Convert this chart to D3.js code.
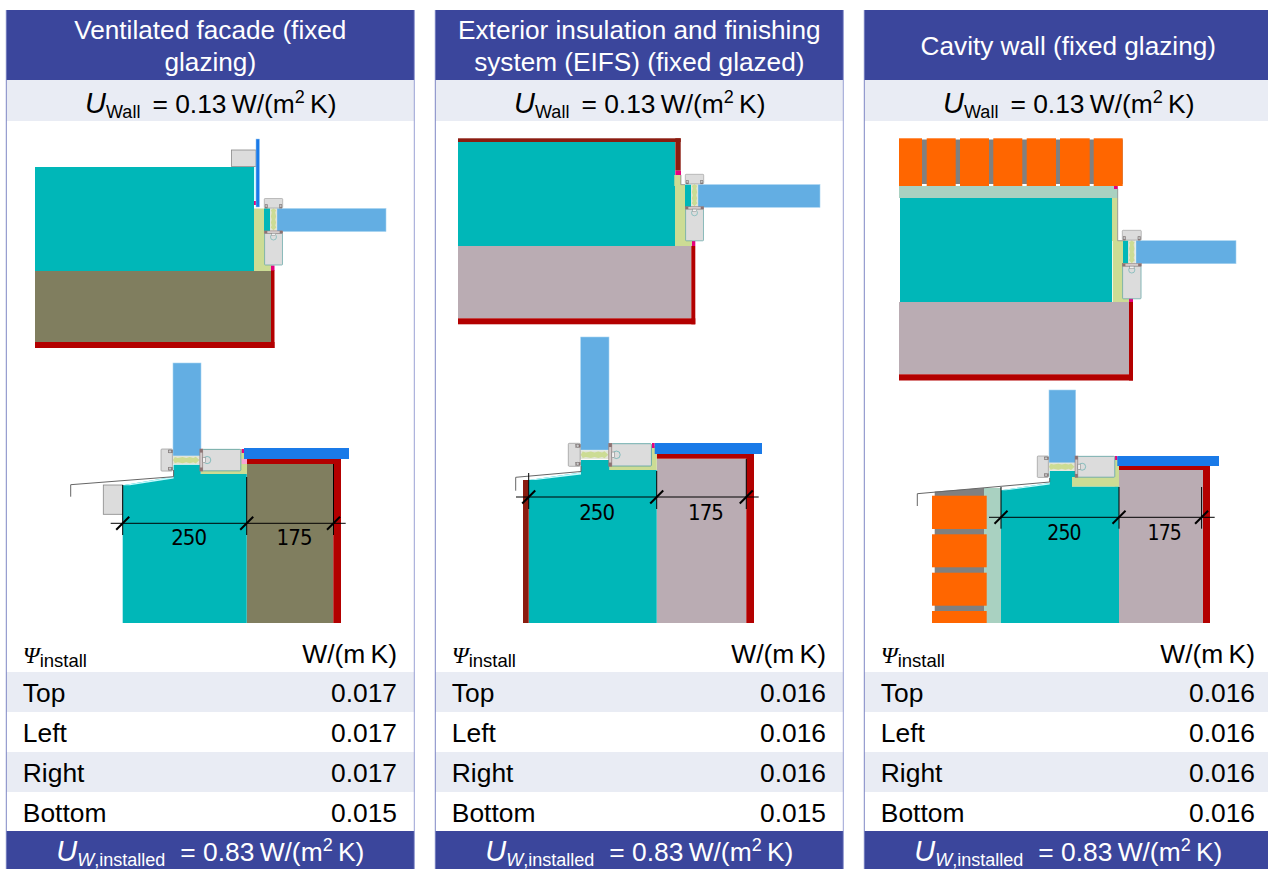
<!DOCTYPE html>
<html>
<head>
<meta charset="utf-8">
<script src="https://cdn.jsdelivr.net/npm/d3@7"></script>
<style>
html, body { margin: 0; padding: 0; background: #fff; overflow: hidden; }
svg { display: block; }
text { font-family: "Liberation Sans", sans-serif; fill: #000; }
</style>
</head>
<body>
<div id="chart"></div>
<script>
// Values
var facadeTitles = [
    ["Ventilated facade (fixed", "glazing)"],
    ["Exterior insulation and finishing", "system (EIFS) (fixed glazed)"],
    ["Cavity wall (fixed glazing)"]
];
var uWall = [0.13, 0.13, 0.13];
var uInstalled = [0.83, 0.83, 0.83];
var psiSides = ["Top", "Left", "Right", "Bottom"];
var psiFacade = [0.017, 0.017, 0.017, 0.015];
var psiEifs = [0.016, 0.016, 0.016, 0.015];
var psiCavity = [0.016, 0.016, 0.016, 0.016];
var psiValues = [psiFacade, psiEifs, psiCavity];
var layerMm = [250, 175];

var colors = {
    header: "#3b469c", band: "#e9ecf4", teal: "#00b7b8", khaki: "#807e5f", mauve: "#baacb3",
    red: "#b30000", darkRed: "#8b1c10", green: "#ccdc94", glass: "#63aee3", blue: "#1a7ae8",
    grey: "#dcdcdc", magenta: "#e6007e", pink: "#f7a6d4", cavity: "#a9d1c1", brick: "#ff6600", mortar: "#808080"
};

var width = 1268, height = 869;

var svg = d3.select("#chart").append("svg")
    .attr("width", width)
    .attr("height", height);

// Three columns and the four table rows
var panelX = d3.scaleBand().domain([0, 1, 2]).range([6.3, 6.3 + 408 * 3 + 21 * 2]).paddingInner(21 / 429).paddingOuter(0);
var rowY = d3.scaleBand().domain(psiSides).range([672, 832]);
var fmt3 = d3.format(".3f"), fmt2 = d3.format(".2f");

function rect(g, x0, y0, x1, y1, fill, stroke, sw) {
    return g.append("rect")
        .attr("x", x0).attr("y", y0)
        .attr("width", x1 - x0).attr("height", y1 - y0)
        .attr("fill", fill)
        .attr("stroke", stroke || "none")
        .attr("stroke-width", sw || 0);
}

function poly(g, pts, fill) {
    return g.append("polygon")
        .attr("points", pts.map(function(p) { return p.join(","); }).join(" "))
        .attr("fill", fill);
}

function line(g, pts, stroke, sw) {
    return g.append("path")
        .attr("d", d3.line()(pts))
        .attr("fill", "none")
        .attr("stroke", stroke)
        .attr("stroke-width", sw);
}

// Window frame section. u runs from the outer profile to the inner one, v across it.
function drawFrame(g, ox, oy, s, horizontal) {
    var f = g.append("g").attr("transform", horizontal
        ? "matrix(" + s + ",0,0," + s + "," + ox + "," + oy + ")"
        : "matrix(0," + s + "," + s + ",0," + ox + "," + oy + ")");

    rect(f, 9, 5.7, 33, 12.7, "#e2e5d8");
    poly(f, [[10, 9.2], [11.5, 6.6], [14, 7.4], [18, 6.6], [21, 7.4], [24, 6.6], [27, 7.4], [29, 6.4], [32, 9.2],
             [29, 12], [27, 11], [24, 11.8], [21, 11], [18, 11.8], [14, 11], [11.5, 11.8]], colors.green);

    rect(f, 0, 0, 9.5, 18.4, colors.grey, "#999", 0.6).attr("rx", 0.8);
    rect(f, 6, 0.8, 9.6, 3.2, "#8d7272", "#777", 0.3);
    rect(f, 6, 15.2, 9.6, 17.6, "#8d7272", "#777", 0.3);
    f.append("circle").attr("cx", 7.5).attr("cy", 2).attr("r", 1.2).attr("fill", "#ccc").attr("stroke", "#666").attr("stroke-width", 0.3);
    f.append("circle").attr("cx", 7.5).attr("cy", 16.4).attr("r", 1.2).attr("fill", "#ccc").attr("stroke", "#666").attr("stroke-width", 0.3);

    rect(f, 34.5, 0.3, 66.5, 18.2, colors.grey, "#5fa3a3", 0.7).attr("rx", 0.8);
    rect(f, 32.4, 0, 34.8, 18.4, "#d4cccc", "#8d7272", 0.5);
    rect(f, 32.4, 0, 34.8, 3, "#8d7272");
    rect(f, 32.4, 15.4, 34.8, 18.4, "#8d7272");
    f.append("circle").attr("cx", 38.5).attr("cy", 9.2).attr("r", 3).attr("fill", "none").attr("stroke", "#4aa6a6").attr("stroke-width", 0.5);
    rect(f, 34.8, 7, 37, 11.4, "#f2f2f2", "#777", 0.4);
}

function drawDimension(g, x0, k, y, lineFrom, lineTo, extTops, extBottom, labelY, fontSize) {
    // mm along the wall mapped to pixels
    var mm = d3.scaleLinear().domain([0, 1]).range([x0, x0 + k]);
    var ticks = [0, layerMm[0], layerMm[0] + layerMm[1]];
    line(g, [[lineFrom, y], [lineTo, y]], "#000", 1);
    ticks.forEach(function(t, i) {
        var x = mm(t);
        line(g, [[x, extTops[i]], [x, extBottom]], "#000", 1);
        line(g, [[x - 6.5, y + 6.5], [x + 6.5, y - 6.5]], "#000", 2);
    });
    layerMm.forEach(function(d, i) {
        g.append("text")
            .attr("x", (mm(ticks[i]) + mm(ticks[i + 1])) / 2 + 4)
            .attr("y", labelY)
            .attr("text-anchor", "middle")
            .style("font-family", "'DejaVu Sans Condensed', 'DejaVu Sans', sans-serif")
            .style("font-stretch", "condensed")
            .style("letter-spacing", "-0.9px")
            .style("font-size", fontSize + "px")
            .text(d);
    });
}

function drawFacade(g) {
    // top section
    rect(g, 35, 167, 254, 271, colors.teal);
    rect(g, 35, 271, 271, 342, colors.khaki);
    rect(g, 35, 342, 274.5, 348, colors.red);
    rect(g, 271, 270, 274.5, 348, colors.red);
    rect(g, 254, 208.5, 271, 271, colors.green);
    rect(g, 264, 208.5, 270, 231, colors.teal);
    rect(g, 277, 208.5, 386, 231.5, colors.glass, "#a6d3f0", 0.6);
    rect(g, 254, 167, 256, 200, "#d8fbff");
    rect(g, 254, 201, 256, 205, colors.magenta);
    rect(g, 231.5, 150, 256, 166.5, colors.grey, "#888", 0.8);
    rect(g, 256, 139, 259.5, 207, colors.blue, "#9cc8f0", 0.5);
    rect(g, 271, 265.5, 274.5, 270.5, colors.magenta);
    drawFrame(g, 264.3, 198.5, 1, false);

    // bottom section
    rect(g, 173, 363, 201, 456, colors.glass, "#a6d3f0", 0.6);
    rect(g, 246.7, 464, 333.3, 623, colors.khaki);
    rect(g, 246.7, 459, 341, 464, colors.red);
    rect(g, 333.3, 459, 341, 623, colors.red);
    rect(g, 201, 449, 247, 474, colors.green);
    poly(g, [[122.7, 485.3], [173.6, 476.7], [173.6, 464.7], [200.7, 464.7], [200.7, 474], [246.7, 474], [246.7, 623], [122.7, 623]], colors.teal);
    poly(g, [[122.7, 485.3], [173.6, 476.7], [173.6, 478.5], [130, 485.3]], "#c8fbff");
    rect(g, 241.5, 459, 247, 464, colors.pink);
    rect(g, 241.7, 449, 244, 453, colors.magenta);
    rect(g, 244, 448, 349, 459, colors.blue);
    rect(g, 103.3, 485, 122.7, 514.3, colors.grey, "#888", 0.8);
    line(g, [[70.7, 496.7], [70.7, 484.7], [173.6, 476.7], [173.6, 470]], "#666", 1);
    drawFrame(g, 161, 449, 1.2, true);
    drawDimension(g, 122.7, 124 / 250, 523.3, 110.7, 345.7, [485, 477, 464], 535, 545, 22);
}

function drawEifs(g) {
    // top section
    rect(g, 458, 142, 675, 246, colors.teal);
    rect(g, 458, 138.3, 680.7, 142, colors.darkRed);
    rect(g, 675.3, 138.3, 680.7, 170.7, colors.darkRed);
    rect(g, 675.3, 170.7, 681, 175, colors.magenta);
    rect(g, 674.3, 175, 681, 186, colors.green);
    rect(g, 675, 185, 692, 246, colors.green);
    rect(g, 685, 184.6, 691, 207.3, colors.teal);
    line(g, [[680.9, 175], [680.9, 184.6], [685, 184.6]], "#888", 0.8);
    rect(g, 698, 184.6, 820, 207.3, colors.glass, "#a6d3f0", 0.6);
    rect(g, 458, 246, 691.3, 318.3, colors.mauve);
    rect(g, 458, 318.3, 695.3, 324.3, colors.red);
    rect(g, 691.3, 246, 695.3, 324.3, colors.red);
    rect(g, 692, 241, 695.3, 246, colors.magenta);
    drawFrame(g, 685.3, 174.3, 1, false);

    // bottom section
    rect(g, 580.7, 337, 609, 450, colors.glass, "#a6d3f0", 0.6);
    rect(g, 656.7, 458.7, 746.3, 623, colors.mauve);
    rect(g, 656.7, 453.7, 754, 458.7, colors.red);
    rect(g, 746.3, 453.7, 754, 623, colors.red);
    rect(g, 609.3, 446, 656.7, 470, colors.green);
    poly(g, [[528.7, 480], [581, 472.5], [581, 460], [609.3, 460], [609.3, 470], [656.7, 470], [656.7, 623], [528.7, 623]], colors.teal);
    poly(g, [[528.7, 480], [581, 472.5], [581, 474.5], [535, 480]], "#c8fbff");
    rect(g, 523, 480, 528.7, 623, colors.darkRed);
    rect(g, 652, 443, 654.7, 448, colors.magenta);
    rect(g, 654.7, 443, 762, 454, colors.blue);
    line(g, [[515.7, 490.7], [515.7, 477.3], [581, 471.5], [581, 466]], "#666", 1);
    drawFrame(g, 568.3, 443.3, 1.25, true);
    drawDimension(g, 528.7, 128 / 250, 497, 516, 758.7, [473, 471, 459], 509, 520, 22);
}

function drawCavity(g) {
    // top section
    rect(g, 899, 139.5, 1122.7, 184, colors.mortar);
    [[899, 922], [926.7, 955.7], [960, 989], [993.3, 1022.3], [1026.7, 1056], [1060, 1089.7], [1093.7, 1122.7]].forEach(function(b) {
        rect(g, b[0], 138.3, b[1], 186, colors.brick);
    });
    rect(g, 899, 186, 1117.7, 198, colors.cavity);
    rect(g, 1114, 186, 1117.7, 189, colors.magenta);
    rect(g, 900, 198, 1112, 302, colors.teal);
    rect(g, 1112, 198, 1117.7, 241, colors.green);
    rect(g, 1112.7, 240.7, 1129, 302, colors.green);
    rect(g, 1123, 240.7, 1128.3, 263.3, colors.teal);
    line(g, [[1117.7, 189], [1117.7, 240.7], [1123, 240.7]], "#888", 0.8);
    rect(g, 1136, 240.7, 1236, 263.7, colors.glass, "#a6d3f0", 0.6);
    rect(g, 899, 302, 1129, 374.3, colors.mauve);
    rect(g, 899, 374.3, 1133, 380.5, colors.red);
    rect(g, 1129, 302, 1133, 380.5, colors.red);
    rect(g, 1129, 297.5, 1133, 302, colors.magenta);
    drawFrame(g, 1122.3, 230.3, 1.03, false);

    // bottom section
    rect(g, 1049, 390, 1075.7, 463, colors.glass, "#a6d3f0", 0.6);
    rect(g, 1119, 470, 1203, 623, colors.mauve);
    rect(g, 1119, 465, 1210, 470, colors.red);
    rect(g, 1203, 465, 1210, 623, colors.red);
    rect(g, 984, 488, 1001, 623, colors.cavity);
    poly(g, [[934.7, 491.5], [984, 488], [984, 623], [934.7, 623]], colors.mortar);
    [[495.7, 529], [534.3, 567.3], [572.7, 605.7], [611, 623]].forEach(function(b) {
        rect(g, 932, b[0], 986.7, b[1], colors.brick);
    });
    rect(g, 1072, 477, 1119, 486.7, colors.green);
    rect(g, 1114.7, 457, 1119, 486.7, colors.green);
    poly(g, [[1001, 490.3], [1049.7, 483], [1049.7, 471], [1075.7, 471], [1075.7, 477], [1072, 477], [1072, 486.7], [1119, 486.7], [1119, 623], [1001, 623]], colors.teal);
    poly(g, [[1001, 490.3], [1049.7, 483], [1049.7, 484.5], [1006, 490.3]], "#c8fbff");
    rect(g, 1114.8, 456, 1117.3, 460, colors.magenta);
    rect(g, 1117.3, 456, 1219, 466, colors.blue);
    line(g, [[917.3, 506], [917.3, 493.7], [1049.7, 482], [1049.7, 478]], "#666", 1);
    drawFrame(g, 1037.3, 456, 1.165, true);
    drawDimension(g, 1001, 118 / 250, 517.3, 989, 1214.7, [487, 487, 487], 528.7, 539.5, 21);
}

var details = [drawFacade, drawEifs, drawCavity];

// U value line with subscript, shared by the light band and the footer
function uLine(g, y, sub, value, fill, gap) {
    var t = g.append("text")
        .attr("x", 0).attr("y", y)
        .attr("text-anchor", "middle")
        .style("font-size", "26.4px");
    function span(text) { return t.append("tspan").style("fill", fill).text(text); }
    span("U").style("font-style", "italic").style("font-size", "29px");
    if (sub[0]) span(sub[0]).attr("dy", 5).style("font-style", "italic").style("font-size", "18px");
    var rest = span(sub[1]).style("font-size", "18px");
    if (!sub[0]) rest.attr("dy", 5);
    span("= " + fmt2(value) + "\u2009W/(m").attr("dy", -5).attr("dx", gap);
    span("2").attr("dy", -10).style("font-size", "18px");
    span("\u2009K)").attr("dy", 10);
    return t;
}

// Column furniture: title band, U values and the psi table
panelX.domain().forEach(function(i) {
    var x0 = panelX(i), w = panelX.bandwidth(), x1 = x0 + w, cx = x0 + w / 2;
    var g = svg.append("g");

    rect(g, x0, 10, x1, 80, colors.header);
    rect(g, x0, 80, x1, 121, colors.band);

    facadeTitles[i].forEach(function(t, j, all) {
        g.append("text")
            .attr("x", cx)
            .attr("y", all.length === 1 ? 55 : 39 + j * 32)
            .attr("text-anchor", "middle")
            .style("fill", "#fff")
            .style("font-size", "26.2px")
            .text(t);
    });

    uLine(g, 113, [null, "Wall"], uWall[i], "#000", 12).attr("x", cx + 0.5);

    details[i](g);

    // psi table
    var head = g.append("text").attr("x", x0 + 16.5).attr("y", 663);
    head.append("tspan").style("font-family", "'Liberation Serif', serif").style("font-style", "italic").style("font-size", "24px").text("\u03a8");
    head.append("tspan").attr("dy", 4).style("font-size", "18.5px").text("install");
    g.append("text").attr("x", x0 + 390.7).attr("y", 663).attr("text-anchor", "end")
        .style("font-size", "26.4px").text("W/(m\u2009K)");

    psiSides.forEach(function(side, j) {
        var y = rowY(side);
        if (j % 2 === 0) rect(g, x0, y, x1, y + rowY.bandwidth(), colors.band);
        g.append("text").attr("x", x0 + 16.5).attr("y", y + 30).style("font-size", "26.4px").text(side);
        g.append("text").attr("x", x0 + 390.7).attr("y", y + 30).attr("text-anchor", "end")
            .style("font-size", "26.4px").text(fmt3(psiValues[i][j]));
    });

    rect(g, x0, 831, x1, 869, colors.header);
    uLine(g, 861, ["W", ",installed"], uInstalled[i], "#fff", 15).attr("x", cx);

    // thin side rules of the column
    line(g, [[x0, 10], [x0, 869]], "#6f79bd", 0.9);
    line(g, [[x1, 10], [x1, 869]], "#8f97d0", 0.9);
});
</script>
</body>
</html>
